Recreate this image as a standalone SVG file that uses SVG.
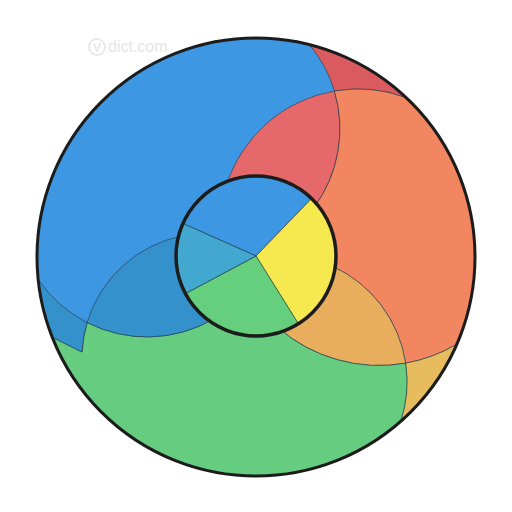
<svg xmlns="http://www.w3.org/2000/svg" width="512" height="512" viewBox="0 0 512 512">
<style>
.seg{stroke:#233640;stroke-width:0.8;stroke-opacity:0.75;stroke-linejoin:round}
.wm{fill:none;stroke:#e8e8e8;stroke-width:2}
</style>
<rect width="512" height="512" fill="#ffffff"/>
<g id="watermark">
<circle class="wm" cx="97" cy="47" r="8"/>
<text x="97" y="52" font-family="Liberation Sans, Arial, sans-serif" font-size="12" font-weight="bold" fill="#e8e8e8" text-anchor="middle">V</text>
<text x="108" y="52" font-family="Liberation Sans, Arial, sans-serif" font-size="16" fill="#e6e6e6">dict.com</text>
</g>
<g id="outer-regions">
<circle id="blue" cx="256" cy="257" r="219" fill="#3d97e3"/>
<path id="dark-red" class="seg" fill="#d95a5f" d="M309.5,44.7 A219,219 0 0 1 406.4,97.8 A138,138 0 0 0 334.4,91 A132,132 0 0 0 309.5,44.7 Z"/>
<path id="red" class="seg" fill="#e5686a" d="M226,186.7 A138,138 0 0 1 334.4,91 A132,132 0 0 1 314,207.5 L256,256 Z"/>
<path id="orange" class="seg" fill="#f28660" d="M406.4,97.8 A219,219 0 0 1 456.9,344.2 A154,154 0 0 1 405.6,363.2 A127,127 0 0 0 331.7,266 L256,256 L314,207.5 A132,132 0 0 0 334.4,91 A138,138 0 0 1 406.4,97.8 Z"/>
<path id="gold-orange" class="seg" fill="#e8ae5e" d="M331.7,266 A127,127 0 0 1 405.6,363.2 A154,154 0 0 1 278,327.7 L256,256 Z"/>
<path id="gold" class="seg" fill="#e6bc5e" d="M405.6,363.2 A154,154 0 0 0 456.9,344.2 A219,219 0 0 1 400.7,421.4 A127,127 0 0 0 405.6,363.2 Z"/>
<path id="green" class="seg" fill="#65cc80" d="M400.7,421.4 A219,219 0 0 1 52,337 L82,352 A124.6,124.6 0 0 1 87.1,322.5 A132,132 0 0 0 213,319.3 L256,256 L278,327.7 A154,154 0 0 0 405.6,363.2 A127,127 0 0 1 400.7,421.4 Z"/>
<path id="dark-blue" class="seg" fill="#3491cc" d="M182.7,235.8 A124.6,124.6 0 0 0 87.1,322.5 A132,132 0 0 0 213,319.3 L256,256 Z"/>
<path id="dark-blue-edge" class="seg" fill="#3491cc" d="M38.4,279.8 A132,132 0 0 0 87.1,322.5 A124.6,124.6 0 0 0 82,352 L52,337 A219,219 0 0 1 38.4,279.8 Z"/>
</g>
<g id="inner-circle">
<path id="inner-blue" class="seg" fill="#3d97e3" d="M256,256 L182.9,223.5 A80,80 0 0 1 311.6,198.5 Z"/>
<path id="inner-yellow" class="seg" fill="#f6e94f" d="M256,256 L311.6,198.5 A80,80 0 0 1 298.4,323.8 Z"/>
<path id="inner-green" class="seg" fill="#66cf7e" d="M256,256 L298.4,323.8 A80,80 0 0 1 185.4,293.6 Z"/>
<path id="inner-teal" class="seg" fill="#43a8d0" d="M256,256 L185.4,293.6 A80,80 0 0 1 182.9,223.5 Z"/>
<circle cx="256" cy="256" r="80" fill="none" stroke="#1c1c1c" stroke-width="3.5"/>
</g>
<circle id="outer-ring" cx="256" cy="257" r="219" fill="none" stroke="#1c1c1c" stroke-width="3"/>
</svg>
